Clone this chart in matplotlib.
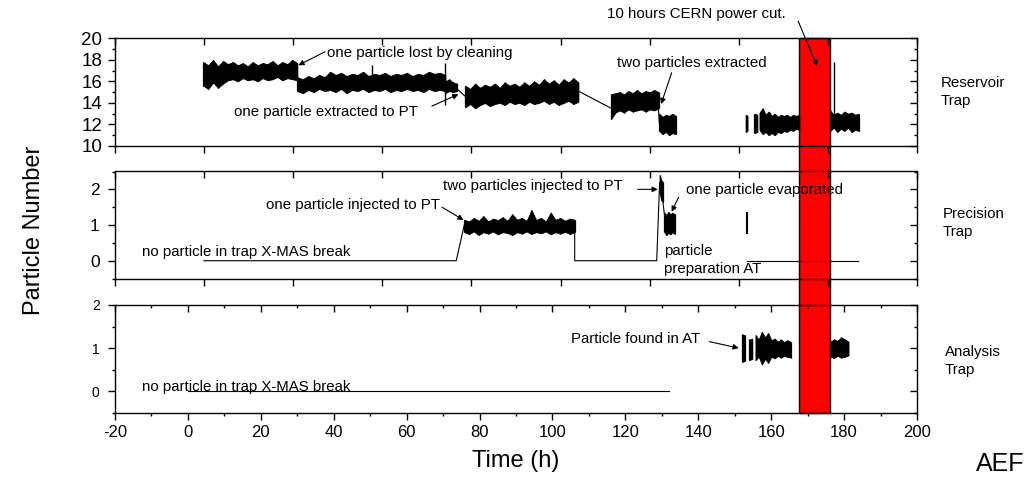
import numpy as np
import matplotlib
matplotlib.use("Agg")
import matplotlib.pyplot as plt
from matplotlib.patches import Rectangle
from matplotlib.ticker import FixedLocator
import matplotlib.transforms as mtrans

plt.rcParams['font.family'] = ['Liberation Sans', 'DejaVu Sans']
plt.rcParams['axes.unicode_minus'] = False

# ---------------- data (time in hours, particle number) ----------------
# Reservoir trap: noisy bands (span, upper envelope, lower envelope)
res1_span = (4.2, 30.0)
res1_hi = [17.8, 17.5, 18.0, 17.4, 17.9, 17.6, 17.8, 17.5, 17.7, 17.4, 17.8, 17.5, 17.7, 17.6, 17.9, 17.5, 17.8, 17.6, 18.0, 17.7]
res1_lo = [15.6, 15.3, 15.9, 15.4, 15.8, 16.1, 16.2, 16.0, 16.3, 16.1, 16.2, 16.0, 16.3, 16.1, 16.2, 16.4, 16.1, 16.3, 16.2, 16.1]
res2_span = (30.0, 70.6)
res2_hi = [16.4, 16.2, 16.5, 16.3, 16.6, 16.4, 16.9, 16.6, 16.8, 16.5, 16.7, 16.6, 16.9, 16.5, 16.7, 16.6, 16.8, 16.5, 16.7, 16.6, 16.8, 16.5, 16.7, 16.6, 16.9, 16.7, 16.8, 16.6]
res2_lo = [15.1, 14.9, 15.2, 15.0, 15.3, 15.1, 15.2, 15.0, 15.3, 14.9, 15.2, 15.1, 15.3, 15.0, 15.2, 15.1, 15.3, 15.0, 15.2, 15.1, 15.3, 15.1, 15.2, 15.0, 15.3, 15.1, 15.2, 15.1]
res2b_span = (70.6, 73.8)
res2b_hi = [16.0, 16.2, 15.9, 15.8]
res2b_lo = [14.9, 15.1, 15.0, 15.1]
res3_span = (76.1, 107.1)
res3_hi = [15.6, 15.3, 15.8, 15.4, 15.7, 15.5, 15.8, 15.4, 15.9, 15.6, 15.8, 15.5, 15.9, 15.6, 16.0, 15.7, 16.2, 15.8, 16.1, 15.7, 16.2, 15.9, 16.3, 15.9]
res3_lo = [13.6, 13.9, 13.5, 13.8, 14.0, 13.7, 13.9, 14.0, 13.8, 14.1, 13.9, 14.0, 13.8, 14.1, 13.9, 14.0, 14.2, 13.9, 14.1, 13.8, 14.0, 14.2, 13.9, 14.1]
res4_span = (116.1, 129.1)
res4_hi = [14.8, 14.9, 15.0, 14.8, 15.1, 14.9, 15.2, 14.9, 15.1, 15.0, 15.2, 15.0]
res4_lo = [12.5, 13.1, 13.3, 13.1, 13.4, 13.2, 13.3, 13.4, 13.2, 13.4, 13.3, 13.5]
res5_span = (129.3, 133.8)
res5_hi = [13.0, 12.7, 12.9, 12.8, 13.0, 12.8]
res5_lo = [11.4, 11.1, 11.3, 11.0, 11.2, 11.1]
res6a_span = (153.0, 153.5)
res6a_hi = [12.9, 12.8]
res6a_lo = [11.3, 11.4]
res6b_span = (155.4, 156.2)
res6b_hi = [13.0, 12.9]
res6b_lo = [11.2, 11.3]
res6_span = (156.8, 167.7)
res6_hi = [13.1, 13.5, 12.9, 13.2, 12.8, 13.0, 12.7, 12.9, 12.8, 12.9, 12.7, 12.9, 12.8, 12.9]
res6_lo = [11.5, 11.1, 11.3, 11.0, 11.2, 11.0, 11.3, 11.2, 11.4, 11.3, 11.5, 11.4, 11.6, 11.5]
res7_span = (176.2, 184.0)
res7_hi = [13.3, 12.9, 13.1, 12.9, 13.2, 13.0, 13.1, 12.9, 13.0]
res7_lo = [11.4, 11.7, 11.3, 11.6, 11.4, 11.7, 11.3, 11.5, 11.4]
res_spike_t = [50.4, 70.6, 177.2]
res_spike_lo = [15.3, 13.8, 12.5]
res_spike_hi = [17.5, 17.7, 17.8]
res_link1_t = [73.8, 76.1]
res_link1_v = [15.3, 14.6]
res_link2_t = [107.1, 116.1]
res_link2_v = [15.1, 13.5]
res_link3_t = [129.1, 129.3]
res_link3_v = [13.4, 12.2]

# Precision trap
pt_line1_t = [4.4, 73.6, 75.8]
pt_line1_v = [0, 0, 1.0]
ptB_span = (75.8, 106.1)
ptB_hi = [1.15, 1.1, 1.2, 1.12, 1.25, 1.1, 1.18, 1.14, 1.22, 1.12, 1.3, 1.15, 1.2, 1.12, 1.42, 1.14, 1.2, 1.1, 1.35, 1.15, 1.2, 1.12, 1.18, 1.15]
ptB_lo = [0.8, 0.75, 0.82, 0.72, 0.8, 0.76, 0.82, 0.74, 0.8, 0.78, 0.72, 0.8, 0.76, 0.82, 0.75, 0.8, 0.77, 0.82, 0.74, 0.8, 0.76, 0.81, 0.75, 0.8]
pt_line2_t = [106.1, 106.1, 128.6, 129.4]
pt_line2_v = [1.0, 0, 0, 2.2]
ptbar_span = (129.4, 130.3)
ptbar_hi = [2.4, 2.26, 2.2]
ptbar_lo = [1.9, 1.7, 1.65]
pt_link_t = [130.3, 130.7]
pt_link_v = [1.65, 1.3]
ptC_span = (130.7, 133.5)
ptC_hi = [1.35, 1.28, 1.37, 1.3, 1.35, 1.3]
ptC_lo = [0.8, 0.72, 0.78, 0.74, 0.8, 0.75]
pt_bar2_t = 153.5
pt_bar2_lo = 0.75
pt_bar2_hi = 1.37
pt_line3_t = [153.5, 183.9]
pt_line3_v = [0, 0]

# Analysis trap
at_line_t = [0.1, 132.0]
at_line_v = [0, 0]
atD1_span = (152.1, 152.7)
atD1_hi = [1.32, 1.3]
atD1_lo = [0.68, 0.7]
atD2_span = (154.0, 154.8)
atD2_hi = [1.2, 1.22]
atD2_lo = [0.72, 0.75]
atD_span = (155.7, 165.3)
atD_hi = [1.3, 1.2, 1.38, 1.25, 1.35, 1.18, 1.22, 1.15, 1.2, 1.14, 1.18, 1.15]
atD_lo = [0.72, 0.8, 0.62, 0.75, 0.66, 0.8, 0.76, 0.82, 0.78, 0.82, 0.8, 0.78]
atE_span = (176.2, 181.2)
atE_hi = [1.15, 1.2, 1.17, 1.25, 1.2, 1.15]
atE_lo = [0.8, 0.77, 0.82, 0.78, 0.8, 0.83]

cut_start, cut_end = 167.7, 176.2

top_xticks = list(np.linspace(-20, 200, 10))
bottom_xticks = [-20, 0, 20, 40, 60, 80, 100, 120, 140, 160, 180, 200]
bottom_xminor = [-10, 10, 30, 50, 70, 90, 110, 130, 150, 170, 190]

# ---------------- figure ----------------
W, H = 1028, 479
fig = plt.figure(figsize=(W / 100, H / 100), dpi=100)
fig.patch.set_facecolor('white')

left = 115 / W
width = (917 - 115) / W
ax1 = fig.add_axes([left, 1 - 146 / H, width, 107.7 / H])
ax2 = fig.add_axes([left, 1 - 278.6 / H, width, 107.1 / H])
ax3 = fig.add_axes([left, 1 - 412.7 / H, width, 107.7 / H])

FS = 10.8


def band(ax, span, hi, lo):
    t = np.linspace(span[0], span[1], len(hi))
    ax.fill_between(t, lo, hi, color='black', lw=0.6, edgecolor='black')
    ax.vlines(t, lo, hi, color='black', lw=0.9)


def style(ax, ylim, ymaj, ymin, xmaj, xmin, ysize, ypad, xlabels):
    ax.set_facecolor('none')
    ax.set_xlim(-20, 200)
    ax.set_ylim(*ylim)
    ax.yaxis.set_major_locator(FixedLocator(ymaj))
    ax.yaxis.set_minor_locator(FixedLocator(ymin))
    ax.xaxis.set_major_locator(FixedLocator(xmaj))
    ax.xaxis.set_minor_locator(FixedLocator(xmin))
    for s in ax.spines.values():
        s.set_linewidth(1.0)
    ax.spines['top'].set_visible(False)
    ax.spines['right'].set_visible(False)
    ax.tick_params(which='both', direction='out', top=False, right=False, width=1.0)
    ax.tick_params(which='major', length=5)
    ax.tick_params(which='minor', length=2.5)
    ax.tick_params(axis='y', labelsize=ysize, pad=ypad)
    ax.tick_params(axis='x', labelsize=12, pad=4, labelbottom=xlabels)
    sx = ax.secondary_xaxis('top')
    sx.spines['top'].set_linewidth(1.0)
    sx.xaxis.set_major_locator(FixedLocator(xmaj))
    sx.xaxis.set_minor_locator(FixedLocator(xmin))
    sx.tick_params(which='both', direction='in', labeltop=False, width=1.0)
    sx.tick_params(which='major', length=5)
    sx.tick_params(which='minor', length=2.5)
    sy = ax.secondary_yaxis('right')
    sy.spines['right'].set_linewidth(1.0)
    sy.yaxis.set_major_locator(FixedLocator(ymaj))
    sy.yaxis.set_minor_locator(FixedLocator(ymin))
    sy.tick_params(which='both', direction='in', labelright=False, width=1.0)
    sy.tick_params(which='major', length=5)
    sy.tick_params(which='minor', length=2.5)


def arrow(ax, start, tip):
    ax.annotate('', xy=tip, xytext=start, annotation_clip=False,
                arrowprops=dict(arrowstyle='-|>', color='black', lw=0.8,
                                shrinkA=0, shrinkB=0, mutation_scale=8))


# --- Reservoir trap ---
for span, hi, lo in [(res1_span, res1_hi, res1_lo), (res2_span, res2_hi, res2_lo),
                     (res2b_span, res2b_hi, res2b_lo), (res3_span, res3_hi, res3_lo),
                     (res4_span, res4_hi, res4_lo), (res5_span, res5_hi, res5_lo),
                     (res6a_span, res6a_hi, res6a_lo), (res6b_span, res6b_hi, res6b_lo),
                     (res6_span, res6_hi, res6_lo), (res7_span, res7_hi, res7_lo)]:
    band(ax1, span, hi, lo)
ax1.vlines(res_spike_t, res_spike_lo, res_spike_hi, color='black', lw=1.0)
for t, v in [(res_link1_t, res_link1_v), (res_link2_t, res_link2_v), (res_link3_t, res_link3_v)]:
    ax1.plot(t, v, color='black', lw=0.8)
style(ax1, (10, 20), [10, 12, 14, 16, 18, 20], [11, 13, 15, 17, 19],
      top_xticks, [], 13.5, 4, False)

ax1.text(38.1, 18.6, 'one particle lost by cleaning', fontsize=FS, va='center', ha='left')
arrow(ax1, (37.6, 18.75), (30.3, 17.5))
ax1.text(12.7, 13.2, 'one particle extracted to PT', fontsize=FS, va='center', ha='left')
arrow(ax1, (66.9, 13.7), (74.2, 14.8))
ax1.text(117.6, 17.7, 'two particles extracted', fontsize=FS, va='center', ha='left')
arrow(ax1, (132.7, 16.8), (129.8, 13.9))
ax1.text(139.5, 22.3, '10 hours CERN power cut.', fontsize=FS, va='center', ha='center', clip_on=False)
arrow(ax1, (167.4, 21.6), (172.6, 17.4))
ax1.text(206.4, 15.0, 'Reservoir\nTrap', fontsize=FS, va='center', ha='left', linespacing=1.35, clip_on=False)

# --- Precision trap ---
ax2.plot(pt_line1_t, pt_line1_v, color='black', lw=0.8)
band(ax2, ptB_span, ptB_hi, ptB_lo)
ax2.plot(pt_line2_t, pt_line2_v, color='black', lw=0.8)
band(ax2, ptbar_span, ptbar_hi, ptbar_lo)
ax2.plot(pt_link_t, pt_link_v, color='black', lw=0.8)
band(ax2, ptC_span, ptC_hi, ptC_lo)
ax2.vlines([pt_bar2_t], [pt_bar2_lo], [pt_bar2_hi], color='black', lw=1.5)
ax2.plot(pt_line3_t, pt_line3_v, color='black', lw=0.8)
style(ax2, (-0.5, 2.5), [0, 1, 2], [-0.5, 0.5, 1.5, 2.5], top_xticks, [], 12.5, 6, False)

ax2.text(69.2, 1.56, 'one particle injected to PT', fontsize=FS, va='center', ha='right')
arrow(ax2, (69.7, 1.5), (75.6, 1.14))
ax2.text(-12.7, 0.14, 'no particle in trap X-MAS break', fontsize=FS, va='baseline', ha='left')
ax2.text(119.3, 2.09, 'two particles injected to PT', fontsize=FS, va='center', ha='right')
arrow(ax2, (123.4, 2.0), (128.9, 2.0))
ax2.text(136.5, 1.98, 'one particle evaporated', fontsize=FS, va='center', ha='left')
arrow(ax2, (134.6, 1.78), (132.7, 1.37))
ax2.text(130.5, 0.03, 'particle\npreparation AT', fontsize=FS, va='center', ha='left', linespacing=1.35)
ax2.text(207.1, 1.05, 'Precision\nTrap', fontsize=FS, va='center', ha='left', linespacing=1.35, clip_on=False)

# --- Analysis trap ---
ax3.plot(at_line_t, at_line_v, color='black', lw=0.8)
for span, hi, lo in [(atD1_span, atD1_hi, atD1_lo), (atD2_span, atD2_hi, atD2_lo),
                     (atD_span, atD_hi, atD_lo), (atE_span, atE_hi, atE_lo)]:
    band(ax3, span, hi, lo)
style(ax3, (-0.5, 2.0), [0, 1, 2], [-0.5, 0.5, 1.5], bottom_xticks,
      bottom_xminor, 10, 6, True)

ax3.text(-12.7, 0.0, 'no particle in trap X-MAS break', fontsize=FS, va='baseline', ha='left')
ax3.text(105.2, 1.21, 'Particle found in AT', fontsize=FS, va='center', ha='left')
arrow(ax3, (143.0, 1.15), (151.1, 1.0))
ax3.text(207.6, 0.7, 'Analysis\nTrap', fontsize=FS, va='center', ha='left', linespacing=1.35, clip_on=False)

# --- power-cut rectangle spanning all panels ---
trans = mtrans.blended_transform_factory(ax3.transData, fig.transFigure)
y0 = 1 - 412.7 / H
y1 = 1 - 38.3 / H
rect = Rectangle((cut_start, y0), cut_end - cut_start, y1 - y0, transform=trans,
                 facecolor='#ff0000', edgecolor='black', lw=1.0, zorder=-1)
fig.patches.append(rect)

# --- axis titles ---
fig.text(34 / W, 1 - 230 / H, 'Particle Number', rotation=90, fontsize=17,
         ha='center', va='center')
fig.text(516 / W, 1 - 461 / H, 'Time (h)', fontsize=17, ha='center', va='center')
fig.text(1024 / W, 3 / H, 'AEF', fontsize=18, ha='right', va='bottom')

fig.savefig('out.png', dpi=100, facecolor='white')
